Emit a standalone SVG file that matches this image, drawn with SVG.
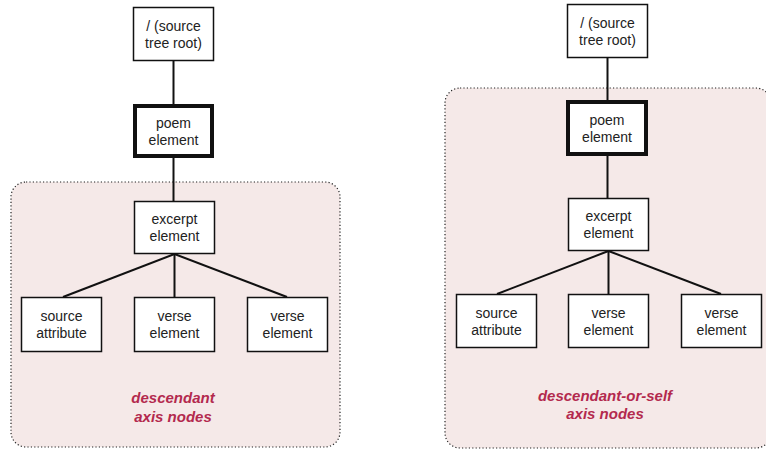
<svg xmlns="http://www.w3.org/2000/svg" width="766" height="450" viewBox="0 0 766 450">
<style>
.bg{fill:#ffffff}
.region{fill:#f5e9e8;stroke:#222;stroke-width:1.2;stroke-dasharray:1.2 2.2}
.box{fill:#ffffff;stroke:#111;stroke-width:1.5}
.ctx{fill:#ffffff;stroke:#111;stroke-width:4}
.lbl{font-family:"Liberation Sans",Arial,sans-serif;font-size:14px;fill:#222;text-anchor:middle}
.axis{font-family:"Liberation Sans",Arial,sans-serif;font-size:15px;font-weight:bold;font-style:italic;fill:#b3294e;text-anchor:middle}
.conn line{stroke:#111;stroke-width:2}
</style>
<rect class="bg" x="0" y="0" width="766" height="450"/>
<g id="region-descendant">
<rect class="region" x="11" y="182" width="329" height="265" rx="15"/>
<text class="axis" x="173" y="403">descendant</text>
<text class="axis" x="173" y="422">axis nodes</text>
</g>
<g id="region-descendant-or-self">
<rect class="region" x="445" y="88" width="326" height="360" rx="15"/>
<text class="axis" x="605" y="401">descendant-or-self</text>
<text class="axis" x="605" y="419">axis nodes</text>
</g>
<g id="connectors" class="conn">
<line x1="173.5" y1="61" x2="173.5" y2="104"/>
<line x1="173.5" y1="158" x2="173.5" y2="201"/>
<line x1="174.5" y1="254" x2="63" y2="297"/>
<line x1="174.5" y1="254" x2="174.5" y2="297"/>
<line x1="174.5" y1="254" x2="287" y2="297"/>
<line x1="607.5" y1="58" x2="607.5" y2="100"/>
<line x1="607.5" y1="156" x2="607.5" y2="198"/>
<line x1="608.5" y1="251" x2="497" y2="294"/>
<line x1="608.5" y1="251" x2="608.5" y2="294"/>
<line x1="608.5" y1="251" x2="721" y2="294"/>
</g>
<g id="l-root"><rect class="box" x="133.5" y="7.5" width="80" height="53"/><text class="lbl" x="173.5" y="30.5">/ (source</text><text class="lbl" x="173.5" y="47.5">tree root)</text></g>
<g id="l-poem"><rect class="ctx" x="135" y="106" width="77" height="50"/><text class="lbl" x="173.5" y="127.5">poem</text><text class="lbl" x="173.5" y="144.5">element</text></g>
<g id="l-excerpt"><rect class="box" x="134.5" y="201.5" width="80" height="52"/><text class="lbl" x="174.5" y="224">excerpt</text><text class="lbl" x="174.5" y="241">element</text></g>
<g id="l-source"><rect class="box" x="21.5" y="297.5" width="80" height="54"/><text class="lbl" x="61.5" y="321">source</text><text class="lbl" x="61.5" y="338">attribute</text></g>
<g id="l-verse1"><rect class="box" x="134.5" y="297.5" width="80" height="54"/><text class="lbl" x="174.5" y="321">verse</text><text class="lbl" x="174.5" y="338">element</text></g>
<g id="l-verse2"><rect class="box" x="247.5" y="297.5" width="80" height="54"/><text class="lbl" x="287.5" y="321">verse</text><text class="lbl" x="287.5" y="338">element</text></g>
<g id="r-root"><rect class="box" x="567.5" y="4.5" width="80" height="53"/><text class="lbl" x="607.5" y="27.5">/ (source</text><text class="lbl" x="607.5" y="44.5">tree root)</text></g>
<g id="r-poem"><rect class="ctx" x="568" y="102" width="78" height="52"/><text class="lbl" x="607" y="124.5">poem</text><text class="lbl" x="607" y="141.5">element</text></g>
<g id="r-excerpt"><rect class="box" x="568.5" y="198.5" width="80" height="52"/><text class="lbl" x="608.5" y="221">excerpt</text><text class="lbl" x="608.5" y="238">element</text></g>
<g id="r-source"><rect class="box" x="456.5" y="294.5" width="80" height="53"/><text class="lbl" x="496.5" y="317.5">source</text><text class="lbl" x="496.5" y="334.5">attribute</text></g>
<g id="r-verse1"><rect class="box" x="568.5" y="294.5" width="80" height="53"/><text class="lbl" x="608.5" y="317.5">verse</text><text class="lbl" x="608.5" y="334.5">element</text></g>
<g id="r-verse2"><rect class="box" x="681.5" y="294.5" width="80" height="53"/><text class="lbl" x="721.5" y="317.5">verse</text><text class="lbl" x="721.5" y="334.5">element</text></g>
</svg>
